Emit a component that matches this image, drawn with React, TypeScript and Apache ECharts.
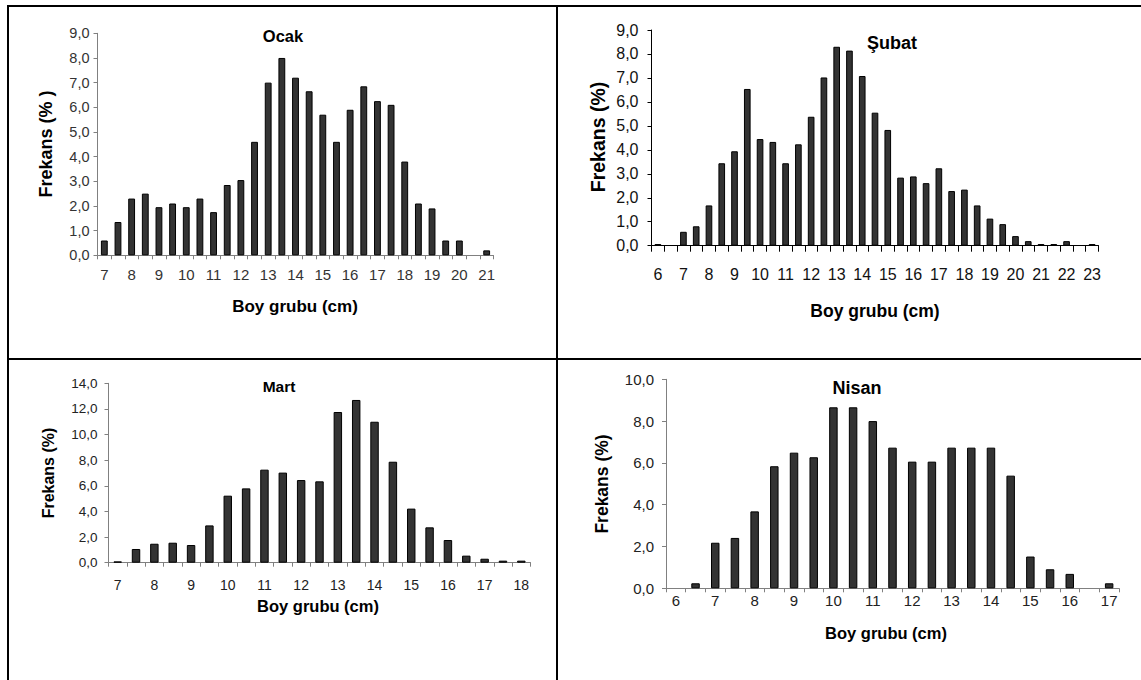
import React, { useEffect, useRef } from "react";
import * as echarts from "echarts";

// ---- Data ----
const ocakCategories = ["7","7.5","8","8.5","9","9.5","10","10.5","11","11.5","12","12.5","13","13.5","14","14.5","15","15.5","16","16.5","17","17.5","18","18.5","19","19.5","20","20.5","21"];
const ocakValues = [0.6,1.35,2.3,2.5,1.95,2.1,1.95,2.3,1.75,2.85,3.05,4.6,7.0,8.0,7.2,6.65,5.7,4.6,5.9,6.85,6.25,6.1,3.8,2.1,1.9,0.6,0.6,0,0.2];

const subatCategories = ["6","6.5","7","7.5","8","8.5","9","9.5","10","10.5","11","11.5","12","12.5","13","13.5","14","14.5","15","15.5","16","16.5","17","17.5","18","18.5","19","19.5","20","20.5","21","21.5","22","22.5","23"];
const subatValues = [0.07,0,0.58,0.81,1.68,3.44,3.94,6.54,4.45,4.33,3.44,4.23,5.38,7.02,8.3,8.14,7.08,5.55,4.83,2.84,2.89,2.61,3.23,2.28,2.34,1.68,1.13,0.9,0.4,0.19,0.07,0.07,0.19,0,0.07];

const martCategories = ["7","7.5","8","8.5","9","9.5","10","10.5","11","11.5","12","12.5","13","13.5","14","14.5","15","15.5","16","16.5","17","17.5","18"];
const martValues = [0.1,1.07,1.48,1.56,1.38,2.91,5.23,5.8,7.26,7.03,6.45,6.35,11.76,12.7,11.0,7.88,4.22,2.76,1.77,0.55,0.31,0.16,0.16];

const nisanCategories = ["6","6.5","7","7.5","8","8.5","9","9.5","10","10.5","11","11.5","12","12.5","13","13.5","14","14.5","15","15.5","16","16.5","17"];
const nisanValues = [0,0.24,2.18,2.41,3.68,5.84,6.49,6.27,8.66,8.66,8.0,6.73,6.06,6.06,6.73,6.73,6.73,5.39,1.52,0.91,0.69,0,0.24];

const panelTitles = ["Ocak", "Şubat", "Mart", "Nisan"];
const yTitles = ["Frekans (% )", "Frekans (%)", "Frekans (%)", "Frekans (%)"];
const xTitle = "Boy grubu (cm)";
const yMax = [9, 9, 14, 10];
const yInterval = [1, 1, 2, 2];

const FONT = "'Liberation Sans', Arial, sans-serif";

export default function App() {
  const ref = useRef<HTMLDivElement>(null);

  useEffect(() => {
    if (!ref.current) return;
    const chart = echarts.init(ref.current, undefined, { renderer: "svg" });

    const cats = [ocakCategories, subatCategories, martCategories, nisanCategories];
    const vals = [ocakValues, subatValues, martValues, nisanValues];

    const grids = [
      { left: 97.5, top: 33.3, width: 396, height: 222 },
      { left: 651.5, top: 30, width: 447, height: 215.7 },
      { left: 108.5, top: 383.3, width: 422, height: 179.4 },
      { left: 666, top: 379.3, width: 453, height: 209 },
    ];
    const axisColor = ["#808080", "#000", "#808080", "#808080"];
    const labelColor = ["#333", "#111", "#222", "#222"];
    const xLabelSize = [15, 16, 14, 15];
    const xLabelMargin = [12, 21, 15, 5];
    const xTickLen = [4, 6, 4, 4];
    const yLabelSize = [14.5, 16, 13.5, 15];
    const yLabelMargin = [8, 13, 11, 12];
    const barWidths = ["50%", "52%", "46%", "43%"];

    const fmt = (v: number) => v.toFixed(1).replace(".", ",");

    const titlePos = [
      { x: 283, y: 36, size: 16.5, weight: "bold" },
      { x: 892, y: 43, size: 18, weight: "bold" },
      { x: 279, y: 386, size: 15.5, weight: "bold" },
      { x: 857, y: 388, size: 18, weight: "bold" },
    ];
    const xTitlePos = [
      { x: 295, y: 306, size: 17 },
      { x: 875, y: 311, size: 17.5 },
      { x: 318, y: 606, size: 16.5 },
      { x: 886, y: 633, size: 16.5 },
    ];
    const yTitlePos = [
      { x: 46, y: 144, size: 18 },
      { x: 598, y: 137, size: 19.5 },
      { x: 48, y: 473, size: 16 },
      { x: 602, y: 484, size: 17.5 },
    ];

    const textEl = (text: string, x: number, y: number, size: number, weight: string, rotation = 0) => ({
      type: "text",
      x,
      y,
      rotation,
      style: {
        text,
        fill: "#000",
        fontSize: size,
        fontWeight: weight,
        fontFamily: FONT,
        textAlign: "center",
        textVerticalAlign: "middle",
        align: "center",
        verticalAlign: "middle",
      },
    });

    const lineEl = (x1: number, y1: number, x2: number, y2: number) => ({
      type: "line",
      shape: { x1, y1, x2, y2 },
      style: { stroke: "#000", lineWidth: 2 },
    });

    const graphic: any[] = [
      lineEl(7, 6, 1141, 6),
      lineEl(8, 5, 8, 680),
      lineEl(557, 5, 557, 680),
      lineEl(8, 359, 1141, 359),
    ];
    for (let i = 0; i < 4; i++) {
      graphic.push(textEl(panelTitles[i], titlePos[i].x, titlePos[i].y, titlePos[i].size, titlePos[i].weight));
      graphic.push(textEl(xTitle, xTitlePos[i].x, xTitlePos[i].y, xTitlePos[i].size, "bold"));
      graphic.push(textEl(yTitles[i], yTitlePos[i].x, yTitlePos[i].y, yTitlePos[i].size, "bold", Math.PI / 2));
    }

    const option: any = {
      animation: false,
      backgroundColor: "#fff",
      textStyle: { fontFamily: FONT },
      grid: grids.map((g) => ({ ...g, containLabel: false })),
      xAxis: cats.map((c, i) => ({
        type: "category",
        gridIndex: i,
        data: c,
        boundaryGap: true,
        axisLine: { show: true, lineStyle: { color: axisColor[i], width: 1 } },
        axisTick: { show: true, interval: 0, alignWithLabel: false, length: xTickLen[i], lineStyle: { color: axisColor[i] } },
        axisLabel: { interval: 1, margin: xLabelMargin[i], fontSize: xLabelSize[i], color: labelColor[i], fontFamily: FONT },
        splitLine: { show: false },
      })),
      yAxis: cats.map((_, i) => ({
        type: "value",
        gridIndex: i,
        min: 0,
        max: yMax[i],
        interval: yInterval[i],
        axisLine: { show: true, lineStyle: { color: axisColor[i], width: 1 } },
        axisTick: { show: true, length: 4, lineStyle: { color: axisColor[i] } },
        axisLabel: { formatter: fmt, margin: yLabelMargin[i], fontSize: yLabelSize[i], color: labelColor[i], fontFamily: FONT },
        splitLine: { show: false },
      })),
      series: vals.map((v, i) => ({
        type: "bar",
        xAxisIndex: i,
        yAxisIndex: i,
        data: v.map((x) => (x === 0 ? "-" : x)),
        barWidth: barWidths[i],
        itemStyle: { color: "#333333", borderColor: "#000", borderWidth: 1 },
      })),
      graphic,
    };

    chart.setOption(option);
    return () => chart.dispose();
  }, []);

  return (
    <div
      ref={ref}
      style={{ position: "absolute", left: 0, top: 0, width: 1141, height: 680, background: "#fff" }}
    />
  );
}
